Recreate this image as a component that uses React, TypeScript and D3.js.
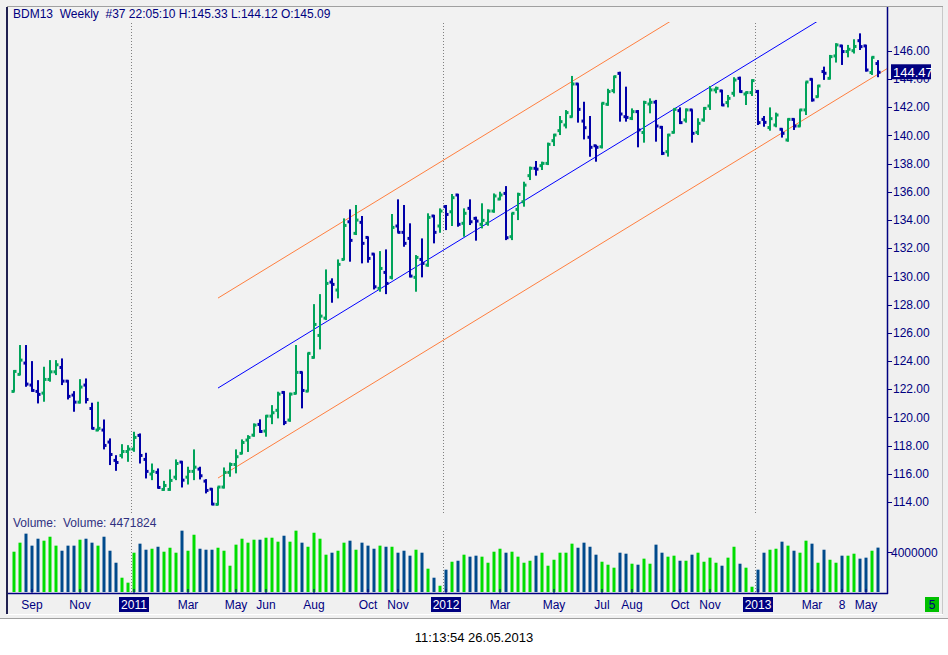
import React from "react";
import * as d3 from "d3";

const W = 948;
const H = 655;
const FONT = "'Liberation Sans', Arial, sans-serif";
const NAVY = "#000080";
const UP = "#00a35a";
const DOWN = "#0000a8";
const VOL_UP = "#00dd00";
const VOL_DOWN = "#004a8c";

// weekly OHLC, week 0 = 16 Aug 2010
const opens = [
  121.84, 123.05, 123.85, 122.29, 121.84, 121.72, 122.69, 123.23, 123.54, 122.57,
  121.58, 121.08, 122.29, 120.63, 119.1, 119.1, 118.25, 116.95, 117.3, 117.58,
  117.75, 118.72, 117.02, 115.98, 116.1, 114.89, 114.89, 115.76, 116.83, 115.76,
  116.17, 116.33, 115.48, 114.91, 113.83, 115.06, 116.1, 116.66, 117.45, 118.39,
  118.74, 119.5, 119.03, 120.09, 120.5, 121.77, 119.81, 121.7, 123.19, 121.86,
  124.25, 125.81, 127.04, 129.59, 129.03, 131.2, 133.87, 133.05, 133.83, 132.76,
  131.58, 129.15, 130.28, 129.93, 133.57, 133.12, 132.69, 129.93, 131.2, 130.8,
  134.28, 133.57, 134.94, 134.58, 135.77, 133.76, 134.82, 134.11, 133.69, 133.76,
  134.63, 135.48, 135.88, 132.81, 134.75, 135.29, 137.14, 137.66, 137.85, 138.01,
  139.62, 140.33, 140.73, 141.32, 143.64, 141.01, 139.86, 139.26, 139.19, 142.2,
  143.17, 144.39, 141.32, 141.2, 141.68, 140.2, 142.22, 142.35, 140.57, 138.84,
  140.21, 141.75, 141.09, 141.8, 140.21, 141.09, 142.08, 143.22, 143.15, 142.32,
  142.98, 144.04, 142.93, 143.03, 143.1, 141.13, 140.55, 140.73, 140.43, 139.67,
  141.13, 140.66, 141.8, 143.97, 142.74, 144.52, 144.04, 145.63, 146.34, 145.94,
  146.0, 146.71, 146.34, 144.45, 145.09,
];
const highs = [
  123.35, 125.13, 125.13, 123.99, 122.64, 123.59, 124.06, 124.06, 124.18, 122.64,
  121.86, 122.71, 122.76, 121.04, 121.11, 119.85, 118.51, 117.32, 118.1, 118.03,
  118.98, 118.86, 117.49, 116.73, 116.38, 115.5, 116.31, 117.02, 116.9, 116.5,
  117.73, 116.5, 115.62, 114.98, 115.08, 116.45, 116.8, 117.73, 118.44, 118.74,
  119.57, 119.86, 120.16, 120.87, 121.82, 121.86, 121.75, 125.13, 123.24, 124.58,
  128.03, 128.74, 130.49, 129.86, 131.2, 134.11, 134.75, 135.06, 134.28, 132.81,
  131.63, 131.79, 131.91, 134.42, 135.46, 135.06, 133.76, 131.51, 132.69, 134.47,
  134.35, 134.82, 135.06, 135.84, 135.84, 134.82, 135.46, 134.23, 135.18, 134.75,
  135.88, 136.0, 136.4, 134.5, 135.93, 136.71, 137.78, 138.18, 138.13, 139.48,
  140.1, 141.37, 141.79, 144.21, 143.69, 142.38, 141.37, 139.31, 142.31, 143.3,
  144.21, 144.51, 143.45, 141.91, 141.79, 142.45, 142.62, 142.51, 140.66, 140.1,
  141.91, 141.98, 141.9, 141.84, 141.21, 142.0, 143.5, 143.45, 143.22, 142.86,
  144.12, 144.16, 143.1, 143.97, 143.22, 141.37, 141.98, 141.61, 140.5, 141.2,
  141.2, 141.84, 143.81, 144.04, 143.57, 144.87, 145.7, 146.53, 146.41, 146.41,
  146.81, 147.23, 146.41, 145.58, 145.33,
];
const lows = [
  121.82, 123.0, 122.17, 121.82, 120.99, 121.11, 122.53, 123.0, 122.29, 121.27,
  120.4, 120.99, 120.99, 119.17, 119.03, 117.73, 116.62, 116.21, 117.09, 116.85,
  117.56, 116.73, 115.67, 115.55, 114.96, 114.8, 114.8, 115.55, 115.03, 115.24,
  115.55, 115.6, 114.61, 113.78, 113.78, 114.96, 115.79, 116.03, 117.4, 117.55,
  118.63, 118.91, 118.63, 119.52, 119.93, 119.45, 119.69, 121.65, 120.64, 121.82,
  124.18, 124.82, 126.9, 128.13, 128.44, 131.16, 131.04, 132.93, 130.92, 130.97,
  129.07, 128.91, 128.74, 129.78, 133.09, 132.1, 129.93, 128.91, 129.93, 130.68,
  132.34, 133.09, 133.28, 133.57, 133.52, 132.81, 133.64, 132.53, 133.4, 133.59,
  134.51, 135.41, 132.57, 132.57, 133.99, 134.94, 136.83, 137.14, 137.54, 137.89,
  139.24, 140.02, 140.49, 141.27, 140.9, 139.71, 138.48, 138.13, 139.07, 142.1,
  142.98, 140.97, 140.97, 141.08, 139.15, 139.48, 141.56, 139.55, 138.6, 138.49,
  140.14, 140.8, 140.9, 139.48, 140.02, 140.97, 141.8, 142.98, 142.08, 141.98,
  142.74, 143.03, 142.15, 142.79, 140.73, 140.61, 140.33, 140.57, 139.84, 139.55,
  140.38, 140.61, 141.44, 142.39, 142.69, 143.93, 143.97, 145.16, 144.99, 145.53,
  145.8, 146.05, 144.52, 144.28, 144.12,
];
const closes = [
  123.26, 124.06, 122.36, 121.91, 121.63, 122.69, 123.23, 123.73, 122.57, 121.49,
  121.08, 122.15, 121.27, 119.22, 119.22, 118.01, 117.37, 116.8, 117.58, 117.75,
  118.58, 117.3, 116.17, 116.17, 115.03, 115.17, 115.53, 116.73, 115.55, 116.17,
  116.47, 115.86, 114.82, 113.85, 115.06, 116.1, 116.66, 117.21, 118.22, 118.58,
  119.45, 119.0, 120.09, 120.33, 121.65, 119.64, 121.65, 123.19, 121.91, 124.54,
  126.59, 127.18, 129.5, 129.43, 130.85, 133.61, 132.55, 133.99, 132.34, 131.27,
  129.26, 130.56, 129.5, 133.47, 133.12, 132.34, 130.02, 131.34, 130.92, 134.18,
  133.12, 134.63, 134.39, 135.58, 133.69, 134.47, 133.87, 133.92, 133.97, 134.63,
  135.7, 135.77, 132.74, 134.47, 135.81, 136.47, 137.66, 137.6, 138.01, 139.36,
  140.02, 140.97, 141.61, 143.64, 141.84, 140.54, 139.15, 139.15, 142.27, 143.1,
  144.16, 141.51, 141.27, 141.68, 140.38, 142.33, 142.34, 140.66, 138.72, 140.02,
  141.84, 140.9, 141.8, 140.14, 140.85, 141.91, 143.22, 143.33, 142.15, 142.62,
  143.92, 143.1, 143.03, 143.88, 140.9, 140.92, 141.18, 141.44, 140.14, 141.13,
  140.66, 141.8, 143.78, 142.51, 143.5, 144.4, 145.58, 146.41, 145.94, 146.1,
  146.3, 146.29, 144.63, 145.53, 144.47,
];
// weekly volume, millions
const volumes = [
  4.06, 4.97, 5.88, 4.67, 5.37, 5.17, 5.57, 4.67, 4.16, 4.67,
  4.67, 5.27, 5.37, 4.97, 4.67, 5.57, 4.16, 2.95, 1.44, 0.94,
  3.96, 4.87, 4.26, 4.36, 4.56, 4.06, 4.46, 3.96, 6.18, 4.16,
  5.77, 4.36, 4.26, 4.26, 4.46, 4.16, 2.65, 4.77, 5.37, 4.97,
  5.27, 5.27, 5.47, 5.47, 5.07, 5.67, 5.07, 6.18, 4.97, 4.56,
  5.97, 5.37, 3.76, 3.96, 4.16, 4.97, 5.17, 4.26, 4.97, 4.67,
  4.36, 4.67, 4.56, 4.56, 3.96, 4.16, 3.66, 4.26, 3.96, 2.35,
  1.44, 0.63, 2.25, 3.05, 3.15, 3.76, 3.56, 3.66, 3.56, 2.95,
  4.06, 4.36, 3.96, 4.06, 3.56, 2.95, 3.15, 3.66, 3.96, 2.65,
  3.25, 3.96, 3.96, 4.87, 4.46, 4.97, 4.56, 3.76, 3.05, 2.75,
  2.45, 3.96, 3.86, 2.85, 2.75, 3.36, 2.85, 4.77, 3.96, 3.56,
  3.66, 3.15, 3.15, 3.76, 3.96, 3.05, 3.46, 2.95, 2.65, 3.46,
  4.56, 2.85, 2.45, 0.53, 2.25, 3.96, 4.26, 4.36, 5.07, 4.67,
  4.16, 3.96, 5.17, 4.87, 2.95, 4.26, 3.25, 2.95, 3.66, 3.66,
  3.86, 3.36, 3.46, 4.16, 4.471824,
];

// bottom axis labels and the week they sit on
const tickLabels = ["Sep", "Nov", "2011", "Mar", "May", "Jun", "Aug", "Oct", "Nov", "2012",
  "Mar", "May", "Jul", "Aug", "Oct", "Nov", "2013", "Mar", "8", "May"];
const tickWeeks = [3, 11, 20, 29, 37, 42, 50, 59, 64, 72, 81, 90, 98, 103, 111, 116, 124, 133, 138, 142];
const yearWeeks = [20, 72, 124];
const priceTicks = d3.range(114, 147, 2);

// trend channel: start week, price on the centre line there, slope per week, half width
const channelStartWeek = 34;
const channelStartPrice = 122.08;
const channelSlope = 0.2603;
const channelHalf = 6.38;

const App = () => {
  const n = closes.length;
  const x = d3.scaleLinear().domain([0, n - 1]).range([13, 13 + 6 * (n - 1)]);
  const y = d3.scaleLinear().domain([114, 146]).range([502, 50.7]);
  const yVol = d3.scaleLinear().domain([0, 4]).range([592, 552.3]);

  const AX = 887;
  const last = closes[n - 1];

  const channelLine = (off: number) => {
    const w0 = channelStartWeek;
    const w1 = x.invert(AX);
    const p = (w: number) => channelStartPrice + channelSlope * (w - w0) + off;
    return d3.line<number>()
      .x((w) => x(w) + 1)
      .y((w) => y(p(w)))([w0, w1]) as string;
  };

  const txt = { fontFamily: FONT, fontSize: 12 };

  return (
    <svg width={W} height={H} style={{ display: "block", position: "absolute", left: 0, top: 0 }}>
      <defs>
        <clipPath id="pricePane">
          <rect x={8} y={22} width={AX - 8} height={493} />
        </clipPath>
      </defs>
      <rect x={0} y={0} width={W} height={H} fill="#ffffff" />
      <rect x={0} y={0} width={W} height={619} fill="#f0f0f0" />
      <line x1={0} x2={W} y1={618.5} y2={618.5} stroke="#a0a0a0" />
      <line x1={7} x2={943} y1={6.5} y2={6.5} stroke="#a0a0a0" />
      <line x1={942.5} x2={942.5} y1={7} y2={614} stroke="#c8c8c8" />
      <line x1={7} x2={943} y1={614.5} y2={614.5} stroke="#ffffff" />
      <rect x={6} y={7} width={2} height={607} fill="#202050" />
      <rect x={8} y={7} width={AX - 8} height={586} fill="#f2f2f2" />

      {/* year separators */}
      {yearWeeks.map((w) => (
        <g key={w}>
          <line x1={x(w) - 1.5} x2={x(w) - 1.5} y1={23} y2={515} stroke="#808080" strokeDasharray="1,2" />
          <line x1={x(w) - 1.5} x2={x(w) - 1.5} y1={531} y2={592} stroke="#808080" strokeDasharray="1,2" />
        </g>
      ))}

      {/* channel */}
      <g clipPath="url(#pricePane)" fill="none" strokeWidth={1}>
        <path d={channelLine(channelHalf)} stroke="#ff7f3f" />
        <path d={channelLine(0)} stroke="#0000ff" />
        <path d={channelLine(-channelHalf)} stroke="#ff7f3f" />
      </g>

      {/* OHLC bars */}
      {closes.map((c, i) => {
        const o = opens[i];
        const col = c >= o ? UP : DOWN;
        const bx = x(i);
        return (
          <g key={i} fill={col}>
            <rect x={bx} y={y(highs[i])} width={2} height={Math.max(1, y(lows[i]) - y(highs[i]))} />
            <rect x={bx - 1.5} y={y(o) - 1.5} width={3} height={3} />
            <rect x={bx + 0.5} y={y(c) - 1.5} width={3} height={3} />
          </g>
        );
      })}

      {/* volume */}
      {volumes.map((v, i) => (
        <rect
          key={i}
          x={x(i) - 0.5}
          y={yVol(v)}
          width={3}
          height={592 - yVol(v)}
          fill={closes[i] >= opens[i] ? VOL_UP : VOL_DOWN}
        />
      ))}

      {/* axes */}
      <line x1={AX + 0.5} x2={AX + 0.5} y1={7} y2={594} stroke={NAVY} strokeWidth={1.5} />
      <line x1={8} x2={AX + 1} y1={593.5} y2={593.5} stroke={NAVY} strokeWidth={1.5} />
      {priceTicks.map((p) => (
        <g key={p}>
          <line x1={AX} x2={AX + 5} y1={Math.round(y(p)) + 0.5} y2={Math.round(y(p)) + 0.5} stroke={NAVY} />
          <text x={893} y={y(p)} dy="0.35em" fill={NAVY} {...txt}>{p.toFixed(2)}</text>
        </g>
      ))}
      <line x1={AX} x2={AX + 5} y1={Math.round(yVol(4)) + 0.5} y2={Math.round(yVol(4)) + 0.5} stroke={NAVY} />
      <text x={891} y={yVol(4)} dy="0.35em" fill={NAVY} {...txt}>4000000</text>

      <rect x={891} y={y(last) - 8} width={40} height={15} fill={NAVY} />
      <text x={893} y={y(last)} dy="0.35em" fill="#ffffff" {...txt} fontSize={13}>{last.toFixed(2)}</text>

      {tickLabels.map((lab, k) => {
        const cx = x(tickWeeks[k]) + 1;
        const isYear = /^\d{4}$/.test(lab);
        return (
          <g key={k}>
            <line x1={cx} x2={cx} y1={589} y2={593} stroke={NAVY} />
            {isYear && <rect x={cx - 15} y={597} width={30} height={15} fill={NAVY} />}
            <text x={cx} y={605} dy="0.35em" textAnchor="middle" fill={isYear ? "#ffffff" : NAVY} {...txt}>{lab}</text>
          </g>
        );
      })}

      <rect x={925} y={597} width={14} height={15} fill="#00c000" />
      <text x={932} y={605} dy="0.35em" textAnchor="middle" fill={NAVY} {...txt}>5</text>

      <text x={13} y={14} dy="0.35em" fill={NAVY} {...txt} style={{ whiteSpace: "pre" }}>
        {"BDM13  Weekly  #37 22:05:10 H:145.33 L:144.12 O:145.09"}
      </text>
      <text x={13} y={523} dy="0.35em" fill="#303080" {...txt} style={{ whiteSpace: "pre" }}>
        {"Volume:  Volume: " + Math.round(volumes[n - 1] * 1e6)}
      </text>

      <text x={474} y={637} dy="0.35em" textAnchor="middle" fill="#000000" {...txt} fontSize={13}>
        11:13:54 26.05.2013
      </text>
    </svg>
  );
};

export default App;
